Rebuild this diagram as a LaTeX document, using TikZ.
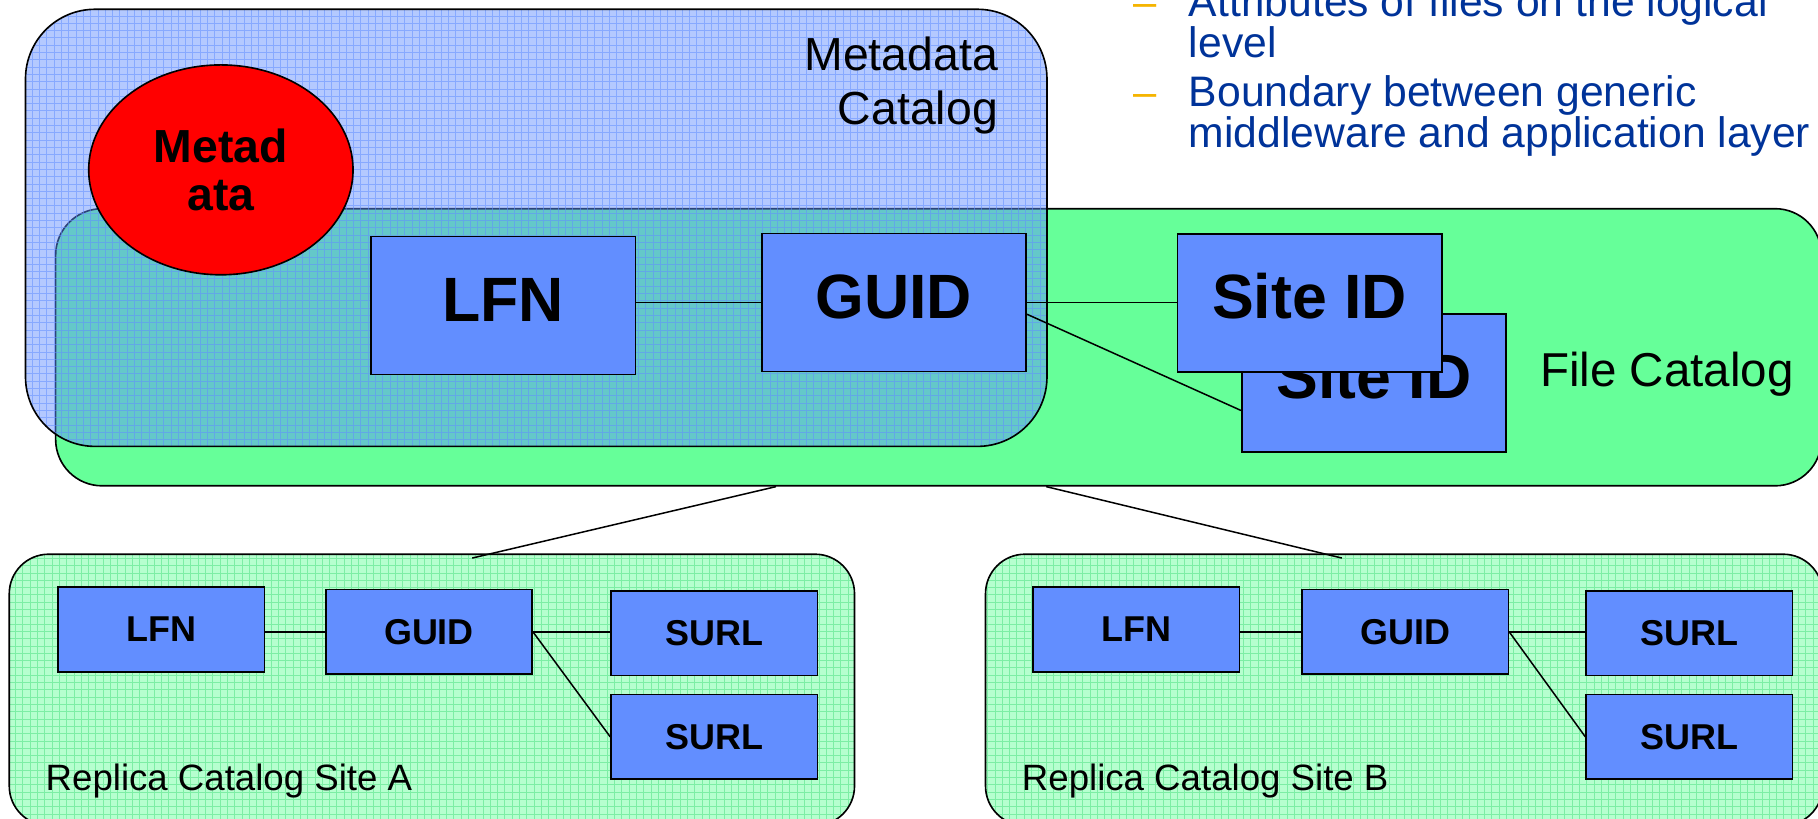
\documentclass[tikz,border=0pt]{standalone}
\usepackage{fontspec}
\setmainfont{Liberation Sans}
\usetikzlibrary{shapes.geometric,calc}
\definecolor{boxblue}{RGB}{98,142,255}
\definecolor{fcgreen}{RGB}{102,255,153}
\definecolor{repfill}{RGB}{182,255,207}
\definecolor{repgrid}{RGB}{125,238,165}
\definecolor{bultext}{RGB}{0,51,153}
\definecolor{dashor}{RGB}{245,180,0}
\begin{document}
\begin{tikzpicture}[x=0.5pt,y=-0.5pt,
  container/.style={draw=black, line width=0.7pt, inner sep=0pt},
  mcgrid/.style={path picture={\draw[boxblue, opacity=0.55, line width=0.4pt, step=3.15pt]
      (path picture bounding box.south west) grid (path picture bounding box.north east);}},
  rpgrid/.style={path picture={\draw[repgrid, line width=0.4pt, step=3.15pt]
      (path picture bounding box.south west) grid (path picture bounding box.north east);}},
  replica/.style={container, fill=repfill, rounded corners=17pt, minimum width=364.5pt, minimum height=117pt, rpgrid},
  bigbox/.style={draw=black, line width=0.7pt, fill=boxblue, minimum width=114pt, minimum height=59.5pt,
      inner sep=0pt, font=\fontsize{27}{30}\selectfont\bfseries, text height=19.4pt, text depth=6pt},
  smallbox/.style={draw=black, line width=0.7pt, fill=boxblue, minimum width=89pt, minimum height=36.5pt,
      inner sep=0pt, font=\fontsize{15.5}{18}\selectfont\bfseries},
  link/.style={draw=black, line width=0.65pt},
  plainlabel/.style={inner sep=0pt, text=black},
  bullettext/.style={anchor=north west, inner sep=0pt, align=left, text=bultext, font=\fontsize{18.4}{17.7}\selectfont},
  bulletdash/.style={anchor=base west, inner sep=0pt, text=dashor, font=\fontsize{18}{20}\selectfont}
]
\useasboundingbox (0,0) rectangle (1568,706);
\clip (0,0) rectangle (1568,706);

% containers
\node[container, fill=fcgreen, rounded corners=20pt, minimum width=761.5pt, minimum height=119.5pt] (fc) at (809.5,299.5) {};
\node[container, fill=boxblue, fill opacity=0.48, draw opacity=1, rounded corners=30pt,
      minimum width=440.5pt, minimum height=188.5pt, mcgrid] (mc) at (462.5,196.5) {};
\node[replica] (ra) at (372.5,595) {};
\node[replica, minimum width=361pt] (rb) at (1211,595) {};

% connectors file catalog -> replica catalogs
\coordinate (fcA) at ($(fc.south west)+(622,0)$);
\coordinate (fcB) at ($(fc.south west)+(855,0)$);
\coordinate (raT) at ($(ra.north west)+(400,4)$);
\coordinate (rbT) at ($(rb.north west)+(308,4)$);
\draw[link] (fcA) -- (raT);
\draw[link] (fcB) -- (rbT);

% file catalog content
\node[bigbox] (lfn) at (434,263.5) {LFN};
\node[bigbox] (guid) at (771,261) {GUID};
\node[bigbox] (site2) at (1185,330.5) {Site ID};
\node[bigbox] (site1) at (1129.5,261.5) {Site ID};
\draw[link] (lfn.east |- guid.west) -- (guid.west);
\draw[link] (guid.east) -- (guid.east -| site1.west);
\draw[link] ($(guid.east)+(0,10)$) -- ($(site2.west)+(0,23.5)$);

% metadata
\node[ellipse, draw=black, line width=0.7pt, fill=red, minimum width=114pt, minimum height=90.5pt,
      inner sep=0pt, align=center, font=\fontsize{20}{20.5}\selectfont\bfseries] (meta) at (190.5,146.5) {Metad\\ata};

% replica A
\node[smallbox] (lfnA) at (139,543) {LFN};
\node[smallbox] (guidA) at (370,545) {GUID};
\node[smallbox] (surlA1) at (616,546) {SURL};
\node[smallbox] (surlA2) at (616,635.5) {SURL};
\draw[link] (guidA.west -| lfnA.east) -- (guidA.west);
\draw[link] (guidA.east) -- (guidA.east -| surlA1.west);
\draw[link] (guidA.east) -- (surlA2.west);

% replica B
\node[smallbox] (lfnB) at (980,543) {LFN};
\node[smallbox] (guidB) at (1212,545) {GUID};
\node[smallbox] (surlB1) at (1457,546) {SURL};
\node[smallbox] (surlB2) at (1457,635.5) {SURL};
\draw[link] (guidB.west -| lfnB.east) -- (guidB.west);
\draw[link] (guidB.east) -- (guidB.east -| surlB1.west);
\draw[link] (guidB.east) -- (surlB2.west);

% labels
\node[plainlabel, anchor=north east, align=right, font=\fontsize{20}{23.5}\selectfont] (mclabel) at (861,31) {Metadata\\Catalog};
\node[plainlabel, anchor=base west, font=\fontsize{20.5}{24}\selectfont] (fclabel) at (1328,333) {File Catalog};
\node[plainlabel, anchor=base west, font=\fontsize{15.8}{19}\selectfont] (ralabel) at (39,682) {Replica Catalog Site A};
\node[plainlabel, anchor=base west, font=\fontsize{15.8}{19}\selectfont] (rblabel) at (881,682) {Replica Catalog Site B};

% bullets
\node[bulletdash] (d1) at (977,14) {\textendash};
\node[bullettext] (b1) at (1025,-12.8) {Attributes of files on the logical\\level};
\node[bulletdash] (d2) at (977,91.5) {\textendash};
\node[bullettext] (b2) at (1025,64.7) {Boundary between generic\\middleware and application layer};
\end{tikzpicture}
\end{document}
